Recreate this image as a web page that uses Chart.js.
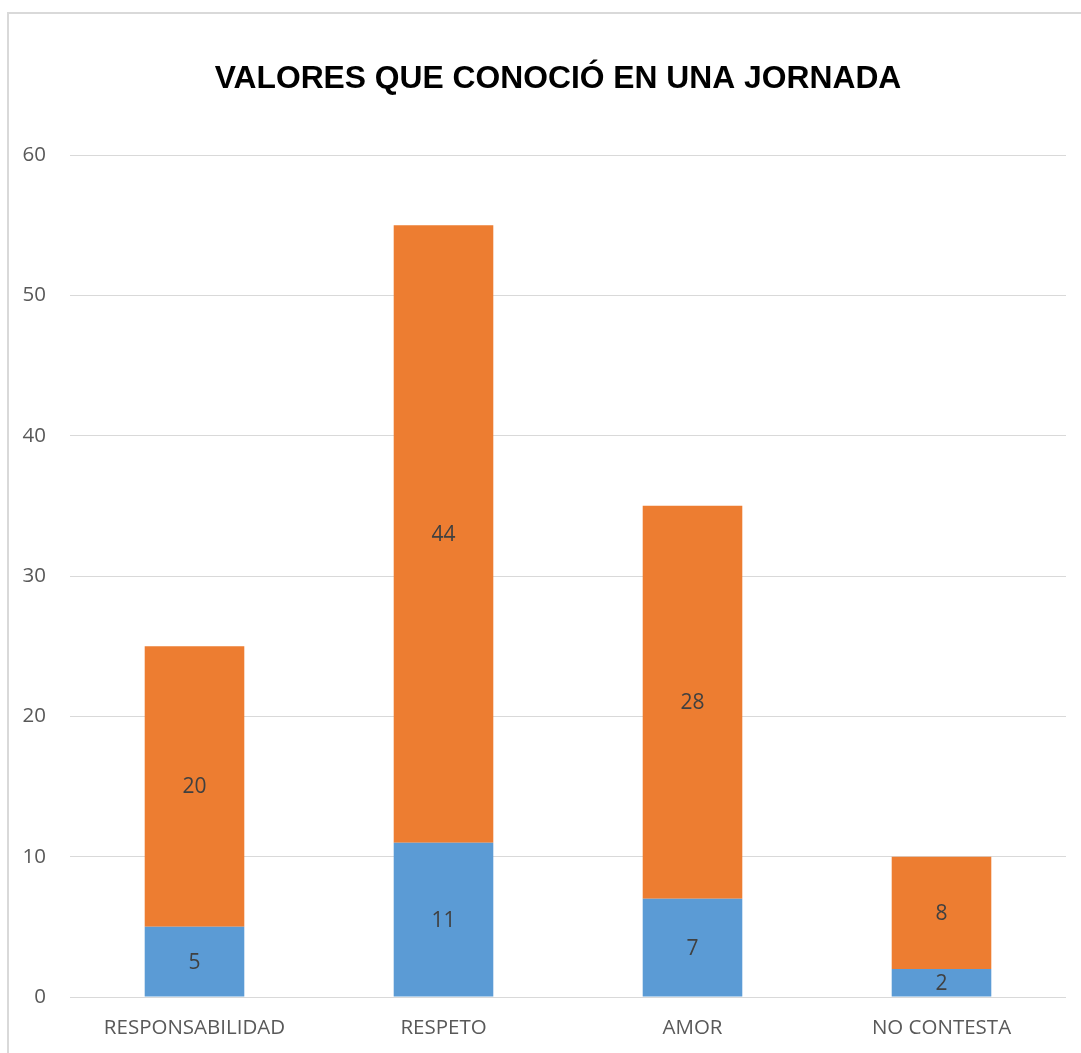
<!DOCTYPE html>
<html>
<head>
<meta charset="utf-8">
<script src="https://cdn.jsdelivr.net/npm/chart.js@4/dist/chart.umd.min.js"></script>
<style>
  html, body { margin: 0; padding: 0; background: #ffffff; overflow: hidden; }
  #wrap { position: absolute; left: 0; top: 0; width: 1081px; height: 1053px; }
  #frame { position: absolute; left: 7px; top: 12px; width: 1100px; height: 1100px; border: 2px solid #d9d9d9; box-sizing: border-box; pointer-events: none; }
</style>
</head>
<body>
<div id="wrap"><canvas id="c" width="1081" height="1053"></canvas></div>
<div id="frame"></div>
<script>
const chartTitle = "VALORES QUE CONOCIÓ EN UNA JORNADA";
const categories = ["RESPONSABILIDAD", "RESPETO", "AMOR", "NO CONTESTA"];
const seriesBlue = [5, 11, 7, 2];
const seriesOrange = [20, 44, 28, 8];
const yTicks = [0, 10, 20, 30, 40, 50, 60];

const tickFont = { family: "'Open Sans', 'Noto Sans', sans-serif", size: 20.5 };

const titlePlugin = {
  id: 'customTitle',
  afterDraw(chart) {
    const ctx = chart.ctx;
    ctx.save();
    ctx.font = "bold 31.8px 'Liberation Sans', Arial, sans-serif";
    ctx.fillStyle = '#000000';
    ctx.textAlign = 'center';
    ctx.textBaseline = 'middle';
    ctx.fillText(chartTitle, 558, 79);
    ctx.restore();
  }
};

const labelPlugin = {
  id: 'valueLabels',
  afterDatasetsDraw(chart) {
    const ctx = chart.ctx;
    ctx.save();
    ctx.font = "21px 'Open Sans', 'Noto Sans', sans-serif";
    ctx.fillStyle = '#404040';
    ctx.textAlign = 'center';
    ctx.textBaseline = 'middle';
    chart.data.datasets.forEach((ds, di) => {
      const meta = chart.getDatasetMeta(di);
      meta.data.forEach((bar, i) => {
        const p = bar.getProps(['x', 'y', 'base'], true);
        ctx.fillText(String(ds.data[i]), p.x, (p.y + p.base) / 2 + 1);
      });
    });
    ctx.restore();
  }
};

new Chart(document.getElementById('c'), {
  type: 'bar',
  data: {
    labels: categories,
    datasets: [
      { label: 'Serie 1', data: seriesBlue, backgroundColor: '#5B9BD5', borderWidth: 0 },
      { label: 'Serie 2', data: seriesOrange, backgroundColor: '#ED7D31', borderWidth: 0 }
    ]
  },
  options: {
    responsive: false,
    animation: false,
    devicePixelRatio: 1,
    layout: { padding: { top: 155, left: 0, right: 15, bottom: 0 } },
    plugins: { legend: { display: false }, title: { display: false }, tooltip: { enabled: false } },
    datasets: { bar: { barPercentage: 0.4, categoryPercentage: 1.0 } },
    scales: {
      x: {
        stacked: true,
        grid: { display: false, drawTicks: false },
        border: { display: false },
        ticks: { color: '#595959', font: tickFont, padding: 19, maxRotation: 0 },
        afterFit(scale) { scale.height = 56; }
      },
      y: {
        stacked: true,
        min: 0, max: 60,
        afterBuildTicks(scale) { scale.ticks = yTicks.map(v => ({ value: v })); },
        grid: { color: '#d9d9d9', lineWidth: 1, drawTicks: false },
        border: { display: false },
        ticks: { color: '#595959', font: tickFont, padding: 24 },
        afterFit(scale) { scale.width = 70; }
      }
    }
  },
  plugins: [titlePlugin, labelPlugin]
});
</script>
</body>
</html>
